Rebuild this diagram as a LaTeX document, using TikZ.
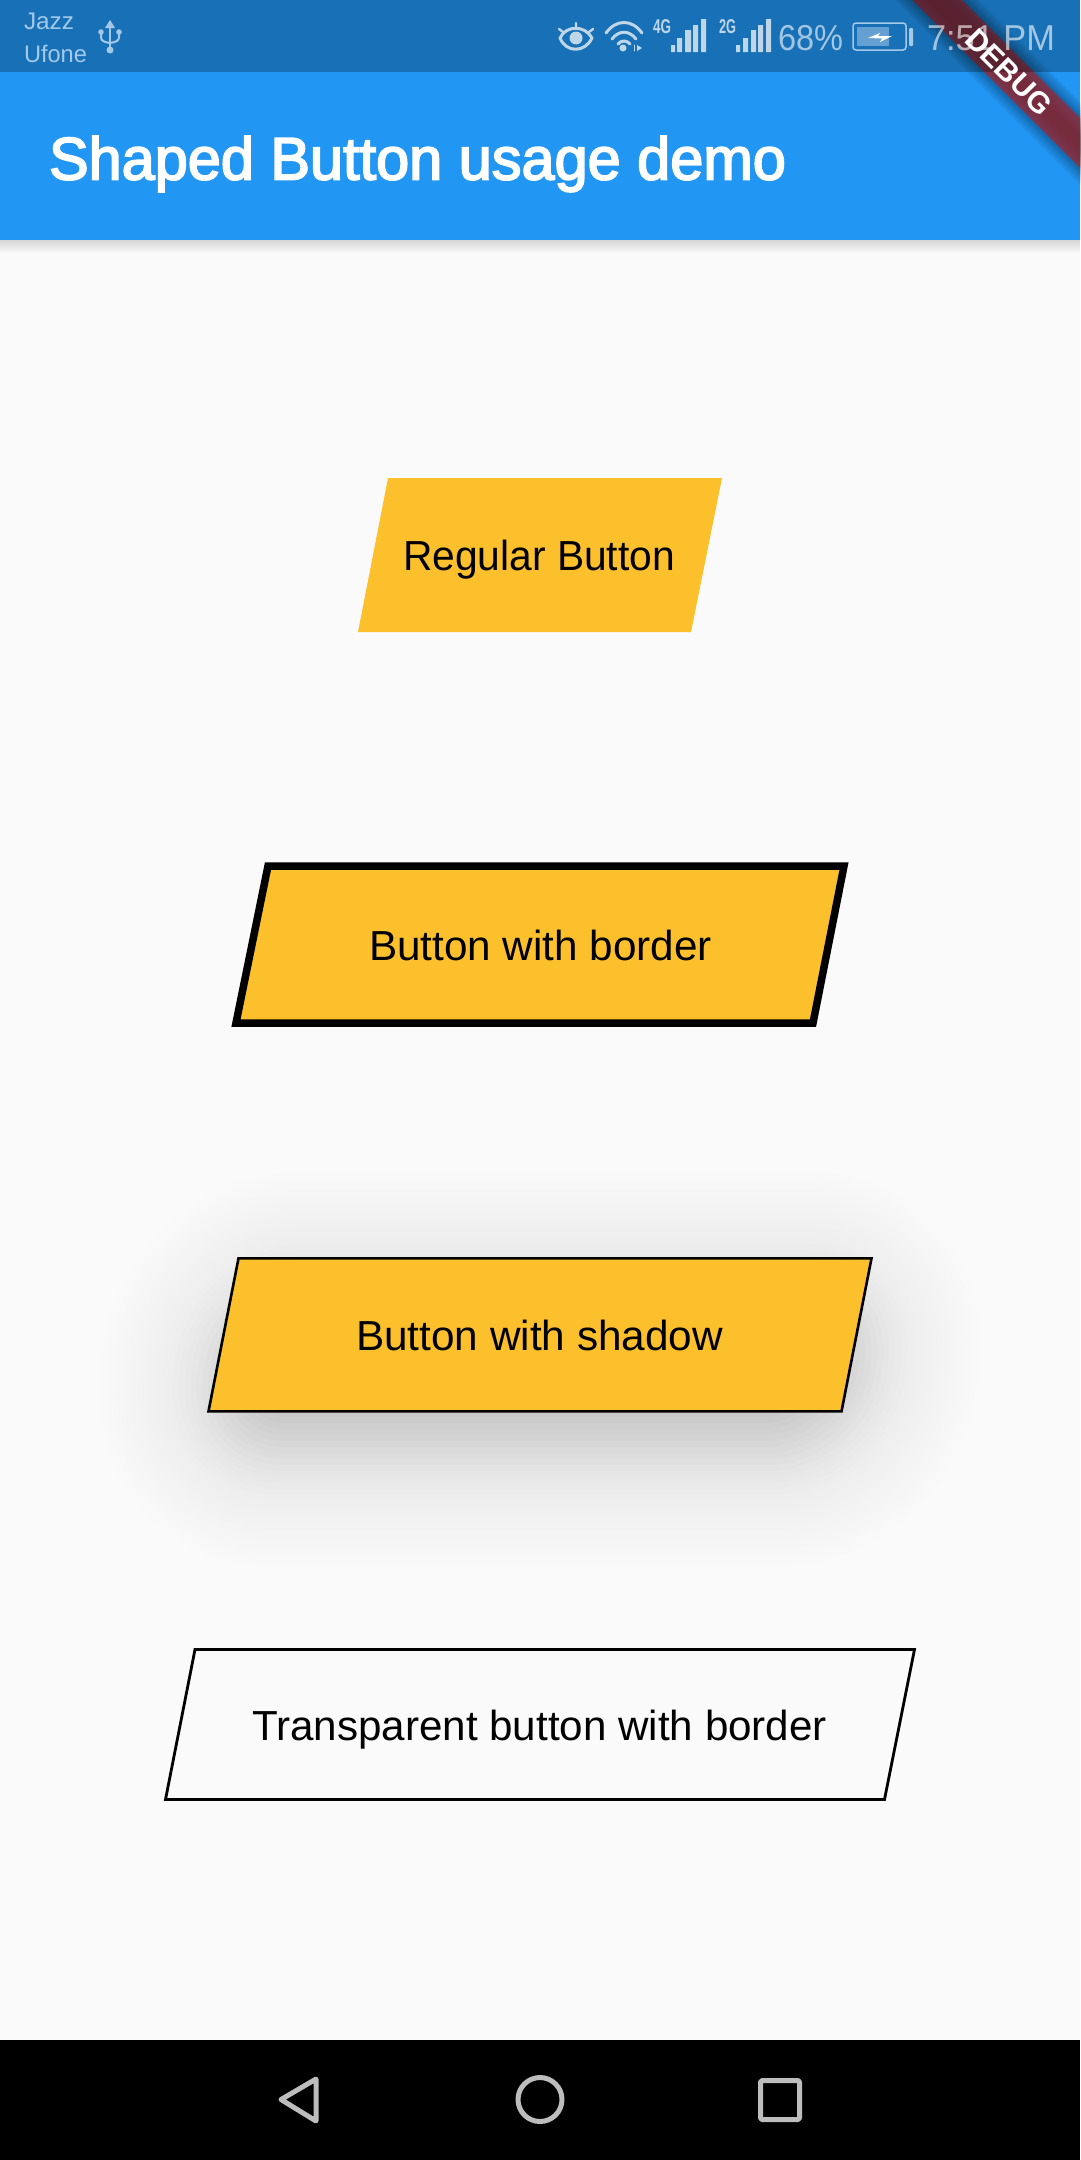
\documentclass[tikz,border=0pt]{standalone}
\usepackage{fontspec}
\usepackage{graphicx}
\setmainfont{Liberation Sans}
\newfontfamily\medfont[FakeBold=3]{Liberation Sans}
\definecolor{bgpage}{HTML}{FAFAFA}
\definecolor{appblue}{HTML}{2196F3}
\definecolor{statustext}{HTML}{A3C9E9}
\definecolor{statusicon}{HTML}{BFD5E8}
\definecolor{amber}{HTML}{FDC02D}
\definecolor{banner}{HTML}{B71C1C}
\definecolor{navicon}{HTML}{BDBDBD}
\newcommand{\fitw}[2]{\resizebox{#1pt}{\height}{#2}}
\tikzset{
  x=1pt,y=-1pt,
  txt/.style={anchor=base west,inner sep=0pt,outer sep=0pt},
  btntext/.style={txt,text=black,font=\fontsize{42}{42}\selectfont},
  statuslabel/.style={txt,text=statustext,font=\fontsize{24}{24}\selectfont},
  clocktext/.style={txt,text=white,text opacity=.6,font=\fontsize{36}{36}\selectfont},
  gentext/.style={txt,text=statusicon,font=\fontsize{20}{20}\selectfont\bfseries},
  navstroke/.style={draw=navicon,line width=5pt,line join=round,line cap=round},
  iconline/.style={draw=statusicon,line cap=round,line join=round},
  usbline/.style={draw=statustext,line width=2.5pt,line cap=round},
}
\begin{document}
\begin{tikzpicture}
\useasboundingbox (0,0) rectangle (1080,2160);
\fill[bgpage] (0,0) rectangle (1080,2160);

% shadow of button 3
\foreach \d in {-84,-78,...,120}{
  \pgfmathsetmacro{\al}{max(0.004,0.215*6*exp(-0.5*(\d/42)*(\d/42))/(42*2.5066))}
  \pgfmathsetmacro{\rr}{max(0.1,0.9*(\d+86))}
  \fill[black,opacity=\al,rounded corners=\rr pt]
    (237-\d,1291-\d) -- (873+\d,1291-\d) -- (843+\d,1447+\d) -- (207-\d,1447+\d) -- cycle;
}

% app bar shadow
\foreach \i in {0,...,5}{
  \fill[black,opacity=0.022] (0,240) rectangle (1080,{252-2*\i});
}
\fill[appblue] (0,0) rectangle (1080,240);

% title
\node[txt,text=white,font=\fontsize{60}{60}\medfont] (title) at (49,179.5) {\fitw{737}{Shaped Button usage demo}};

% debug banner
\coordinate (banS) at (900,-37);
\coordinate (banE) at (1130,193);
\foreach \w in {11,15,...,59}{
  \draw[black,opacity=.052,line width=\w pt] (banS) -- (banE);
}
\coordinate (banA) at (912,0);
\coordinate (banB) at (962,0);
\coordinate (banC) at (1080,118);
\coordinate (banD) at (1080,168);
\fill[banner,opacity=.627] (banA) -- (banB) -- (banC) -- (banD) -- cycle;

% status bar tint
\fill[black,opacity=.25] (0,0) rectangle (1080,72);
\node[inner sep=0pt,rotate=-45,text=white,font=\fontsize{30}{30}\selectfont\bfseries] (debug) at (1009,72) {\fitw{108}{DEBUG}};

% status bar left
\node[statuslabel] (carrierA) at (24,29) {\fitw{50}{Jazz}};
\node[statuslabel] (carrierB) at (24,62) {\fitw{63}{Ufone}};
% usb icon
\draw[usbline] (110,26) -- (110,52);
\fill[statustext] (110,20) -- (115,28) -- (105,28) -- cycle;
\fill[statustext] (110,50) circle (3.5);
\draw[usbline,line width=2pt] (101,33) -- (101,37) .. controls (101,41) and (104,42) .. (110,43);
\draw[usbline,line width=2pt] (119,33) -- (119,37) .. controls (119,41) and (116,42) .. (110,43);
\fill[statustext] (101,32) circle (2.8);
\fill[statustext] (119,32) circle (2.8);

% eye
\draw[iconline,line width=3pt] (560,38) .. controls (566,25) and (585,25) .. (592,38) .. controls (585,53) and (566,53) .. (560,38) -- cycle;
\fill[statusicon] (576,38) circle (6.5);
\draw[iconline,line width=2.4pt] (559,29) -- (563,32) (576,23) -- (576,27) (593,29) -- (589,32);
% wifi
\draw[iconline,line width=3pt] (606,33) .. controls (616,19) and (632,19) .. (642,33);
\draw[iconline,line width=3pt] (612,39) .. controls (619,30) and (629,30) .. (636,39);
\draw[iconline,line width=3pt] (618,44) .. controls (621,40) and (627,40) .. (630,44);
\fill[statusicon] (623,48) circle (3.5);
\fill[statusicon] (637,45) -- (642,48) -- (637,51) -- cycle;
\draw[iconline,line width=1pt] (634,45) -- (634,51);
% 4G + bars
\node[gentext] (netA) at (653,33) {\fitw{18}{4G}};
\fill[statusicon] (671,45) rectangle (675,52) (677,38) rectangle (682,52) (685,30) rectangle (691,52) (693,25) rectangle (698,52) (701,19) rectangle (706,52);
% 2G + bars
\node[gentext] (netB) at (719,33) {\fitw{17}{2G}};
\fill[statusicon] (736,45) rectangle (740,52) (743,38) rectangle (748,52) (751,30) rectangle (756,52) (758,25) rectangle (763,52) (766,19) rectangle (771,52);
% percentage
\node[clocktext] (pct) at (778,50) {\fitw{65}{68\%}};
% battery
\draw[statustext,line width=1.5pt,rounded corners=3pt] (853,23) rectangle (906,50);
\fill[statustext,opacity=.55] (857,27) rectangle (889,46);
\fill[white] (868,38) -- (880,33) -- (878,36) -- (892,36) -- (880,42) -- (882,38.5) -- cycle;
\fill[statustext,rounded corners=1pt] (909,28) rectangle (913,46);
% clock
\node[clocktext] (clock) at (927,50) {\fitw{128}{7:51 PM}};

% button 1
\fill[amber] (388,478) -- (722,478) -- (691,632) -- (358,632) -- cycle;
\node[btntext] (btnA) at (403,570) {\fitw{272}{Regular Button}};
% button 2
\fill[amber,draw=black,line width=7.5pt,line join=miter] (268,866) -- (844,866) -- (813,1023) -- (236,1023) -- cycle;
\node[btntext] (btnB) at (369,960) {\fitw{343}{Button with border}};
% button 3
\fill[amber,draw=black,line width=2.6pt] (238.5,1258.3) -- (871.5,1258.3) -- (841.5,1411.4) -- (208.5,1411.4) -- cycle;
\node[btntext] (btnC) at (356,1350) {\fitw{367}{Button with shadow}};
% button 4
\draw[black,line width=2.8pt] (195,1649.5) -- (914.5,1649.5) -- (884.5,1799.5) -- (165.5,1799.5) -- cycle;
\node[btntext] (btnD) at (252,1740) {\fitw{575}{Transparent button with border}};

% nav bar
\fill[black] (0,2040) rectangle (1080,2160);
\draw[navstroke] (281,2099.5) -- (316,2079) -- (316,2121) -- cycle;
\draw[navstroke] (540,2099.5) circle (22);
\draw[navstroke,line cap=butt,rounded corners=1.5pt] (760.5,2080.5) rectangle (799.5,2119.5);
\end{tikzpicture}
\end{document}
